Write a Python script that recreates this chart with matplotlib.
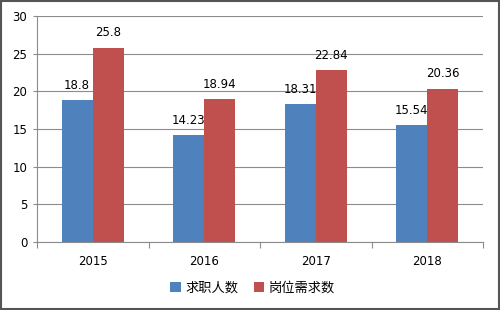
import numpy as np
import matplotlib
matplotlib.use("Agg")
import matplotlib.pyplot as plt
from matplotlib.patches import Rectangle

plt.rcParams['font.family'] = ['Noto Sans CJK SC', 'DejaVu Sans']

years = ['2015', '2016', '2017', '2018']
seekers = [18.8, 14.23, 18.31, 15.54]
demand = [25.8, 18.94, 22.84, 20.36]
seekers_lbl = ['18.8', '14.23', '18.31', '15.54']
demand_lbl = ['25.8', '18.94', '22.84', '20.36']
series_names = ['求职人数', '岗位需求数']

blue = '#4F81BD'
red = '#C0504D'
grid_c = '#8C8C8C'

fig = plt.figure(figsize=(5, 3.1), dpi=100)
ax = fig.add_axes([0.074, 0.219, 0.892, 0.729])

x = np.arange(len(years))
w = 0.28
b1 = ax.bar(x - w / 2, seekers, w, color=blue, label=series_names[0], zorder=3)
b2 = ax.bar(x + w / 2, demand, w, color=red, label=series_names[1], zorder=3)

# data labels above each bar
ax.bar_label(b1, labels=seekers_lbl, padding=6, fontsize=8.5, family='DejaVu Sans')
ax.bar_label(b2, labels=demand_lbl, padding=6, fontsize=8.5, family='DejaVu Sans')

ax.set_xlim(-0.5, len(years) - 0.5)
ax.set_ylim(0, 30)
ax.set_yticks(range(0, 31, 5))
ax.yaxis.grid(True, color=grid_c, linewidth=0.8, zorder=0)
ax.set_axisbelow(True)

ax.set_xticks(x)
ax.set_xticklabels(years, family='DejaVu Sans')
ax.set_xticks(np.arange(-0.5, len(years)), minor=True)
ax.tick_params(axis='x', which='major', length=0, pad=9, labelsize=8.5)
ax.tick_params(axis='x', which='minor', length=4, color=grid_c, width=0.8)
ax.tick_params(axis='y', length=3, color=grid_c, width=0.8, labelsize=8.5, pad=4)
for lab in ax.get_yticklabels():
    lab.set_family('DejaVu Sans')

for s in ['top', 'right']:
    ax.spines[s].set_visible(False)
for s in ['left', 'bottom']:
    ax.spines[s].set_color(grid_c)
    ax.spines[s].set_linewidth(0.8)

fig.legend(handles=[b1, b2], loc='center', bbox_to_anchor=(0.505, 0.071), ncol=2,
           frameon=False, fontsize=9.5, handlelength=0.8, handleheight=0.8,
           handletextpad=0.3, columnspacing=1.2)

# outer frame of the picture
fig.patches.append(Rectangle((0.002, 0.003), 0.996, 0.994, transform=fig.transFigure,
                             fill=False, edgecolor='#555555', linewidth=1.5))

fig.savefig('out.png', dpi=100)
